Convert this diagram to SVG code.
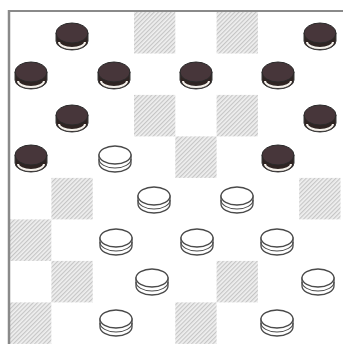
<svg xmlns="http://www.w3.org/2000/svg" width="343" height="344" viewBox="0 0 343 344">
<style>
.dk{fill:url(#hatch)}
.bside{fill:#2f2422;stroke:#3a3a3a;stroke-width:1}
.btop{fill:#47363a;stroke:#2a2a2a;stroke-width:1}
.bstripe{fill:none;stroke:#f4f0ea;stroke-width:2}
.wside{fill:#fff;stroke:#4a4a4a;stroke-width:1.3}
.wtop{fill:#fff;stroke:#4a4a4a;stroke-width:1.3}
.wline{fill:none;stroke:#4a4a4a;stroke-width:1.1}
</style>
<defs>
<pattern id="hatch" width="3" height="3" patternUnits="userSpaceOnUse" patternTransform="rotate(45)">
<rect width="3" height="3" fill="#f0f0f0"/>
<rect width="1.2" height="3" fill="#c6c6c6"/>
</pattern>
<g id="bp">
<path class="bside" d="M-16,-3 V5 A16,9 0 0 0 16,5 V-3 Z"/>
<path class="bstripe" d="M-13,6 A13,6 0 0 0 13,6"/>
<ellipse class="btop" cx="0" cy="-3" rx="16" ry="10"/>
</g>
<g id="wp">
<path class="wside" d="M-16,-3 V5 A16,9 0 0 0 16,5 V-3 Z"/>
<path class="wline" d="M-16,1 A16,9 0 0 0 16,1"/>
<ellipse class="wtop" cx="0" cy="-3" rx="16" ry="9"/>
</g>
</defs>
<rect width="343" height="344" fill="#fff"/>
<g id="board">
<rect x="9" y="11" width="334" height="333" fill="#fff"/>
<rect class="dk" x="134" y="12" width="41.3" height="41.5"/>
<rect class="dk" x="216.6" y="12" width="41.3" height="41.5"/>
<rect class="dk" x="134" y="94.9" width="41.3" height="41.5"/>
<rect class="dk" x="216.6" y="94.9" width="41.3" height="41.5"/>
<rect class="dk" x="175.3" y="136.4" width="41.3" height="41.5"/>
<rect class="dk" x="51.4" y="177.9" width="41.3" height="41.5"/>
<rect class="dk" x="299.2" y="177.9" width="41.3" height="41.5"/>
<rect class="dk" x="10" y="219.4" width="41.3" height="41.5"/>
<rect class="dk" x="51.4" y="260.9" width="41.3" height="41.5"/>
<rect class="dk" x="216.6" y="260.9" width="41.3" height="41.5"/>
<rect class="dk" x="10" y="302.4" width="41.3" height="41.5"/>
<rect class="dk" x="175.3" y="302.4" width="41.3" height="41.5"/>
<line x1="9" y1="11" x2="343" y2="11" stroke="#8a8a8a" stroke-width="2"/>
<line x1="9" y1="10" x2="9" y2="344" stroke="#8a8a8a" stroke-width="2.5"/>
</g>
<g id="connectors"></g>
<g id="b1"><use href="#bp" x="72" y="36"/></g>
<g id="b2"><use href="#bp" x="320" y="36"/></g>
<g id="b3"><use href="#bp" x="31" y="75"/></g>
<g id="b4"><use href="#bp" x="114" y="75"/></g>
<g id="b5"><use href="#bp" x="196" y="75"/></g>
<g id="b6"><use href="#bp" x="278" y="75"/></g>
<g id="b7"><use href="#bp" x="72" y="118"/></g>
<g id="b8"><use href="#bp" x="320" y="118"/></g>
<g id="b9"><use href="#bp" x="31" y="158"/></g>
<g id="b10"><use href="#bp" x="278" y="158"/></g>
<g id="w1"><use href="#wp" x="115" y="158"/></g>
<g id="w2"><use href="#wp" x="154" y="199"/></g>
<g id="w3"><use href="#wp" x="237" y="199"/></g>
<g id="w4"><use href="#wp" x="116" y="241"/></g>
<g id="w5"><use href="#wp" x="197" y="241"/></g>
<g id="w6"><use href="#wp" x="277" y="241"/></g>
<g id="w7"><use href="#wp" x="152" y="281"/></g>
<g id="w8"><use href="#wp" x="318" y="281"/></g>
<g id="w9"><use href="#wp" x="116" y="322"/></g>
<g id="w10"><use href="#wp" x="277" y="322"/></g>
</svg>
